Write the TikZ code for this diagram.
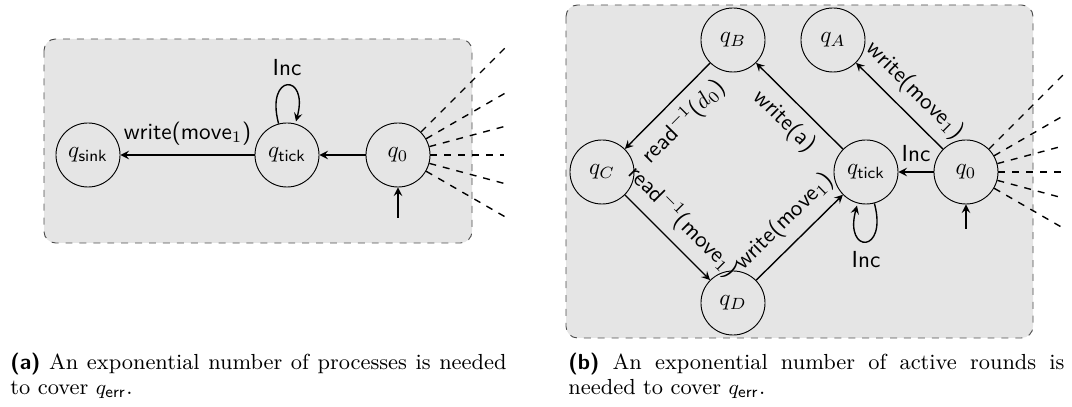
\documentclass[tikz,border=0pt]{standalone}
\usetikzlibrary{calc}
\begin{document}
\begin{tikzpicture}[x=0.431pt, y=0.431pt, >=stealth]
\tikzstyle{loc} = [circle, draw, thin, minimum size=27.6pt, inner sep=0pt]
\tikzstyle{trans} = [->, semithick]
\tikzstyle{fan} = [dashed, semithick]
\tikzstyle{region} = [draw=black!70, dashed, fill=gray!20, rounded corners=5pt]
\tikzstyle{lbl} = [font=\sffamily, inner sep=4pt]
\tikzstyle{capt} = [anchor=north west, inner sep=0pt, align=justify, font=\fontsize{9.4}{10.8}\selectfont, text width=213.8pt]

\useasboundingbox (0,0) rectangle (1072,-407);

% left part
\draw[region] (44,-39) rectangle (472,-243);
\node[loc] (sink) at (88,-155) {$q_{\mathsf{sink}}$};
\node[loc] (tickA) at (287,-155) {$q_{\mathsf{tick}}$};
\node[loc] (zeroA) at (398,-155) {$q_0$};
\coordinate (initA) at (398,-218);

\draw[trans] (zeroA) -- (tickA);
\draw[trans] (tickA) -- node[lbl, above] {write(move$_1$)} (sink);
\path (tickA) edge[trans, loop above] node[lbl, above] {Inc} ();
\draw[trans] (initA) -- (zeroA);
\foreach \a/\l in {45/155, 30/127, 15/114, 0/106, -15/114, -30/127}
    \draw[fan] (zeroA.\a) -- ($(zeroA)+(\a:\l)$);

% right part
\draw[region] (566,-5) rectangle (1033,-338);
\node[loc] (qB) at (733,-40) {$q_B$};
\node[loc] (qA) at (833,-40) {$q_A$};
\node[loc] (qC) at (602,-172) {$q_C$};
\node[loc] (tickB) at (866,-172) {$q_{\mathsf{tick}}$};
\node[loc] (zeroB) at (966,-172) {$q_0$};
\node[loc] (qD) at (733,-303) {$q_D$};
\coordinate (initB) at (966,-229);

\draw[trans] (zeroB) -- node[lbl, above, sloped] {write(move$_1$)} (qA);
\draw[trans] (zeroB) -- node[lbl, above] {Inc} (tickB);
\draw[trans] (tickB) -- node[lbl, below, sloped] {write(a)} (qB);
\draw[trans] (qB) -- node[lbl, below, sloped] {read$^{-1}$($d_0$)} (qC);
\draw[trans] (qC) -- node[lbl, above, sloped] {read$^{-1}$(move$_1$)} (qD);
\draw[trans] (qD) -- node[lbl, above, sloped] {write(move$_1$)} (tickB);
\path (tickB) edge[trans, loop below] node[lbl, below] {Inc} ();
\draw[trans] (initB) -- (zeroB);
\foreach \a/\l in {45/140, 30/114, 15/102, 0/99, -15/102, -30/114}
    \draw[fan] (zeroB.\a) -- ($(zeroB)+(\a:\l)$);

% captions
\node[capt] (captA) at (10,-353)
    {\textsf{\textbf{(a)}} An exponential number of processes is needed to cover $q_{\mathsf{err}}$.};
\node[capt] (captB) at (568,-353)
    {\textsf{\textbf{(b)}} An exponential number of active rounds is needed to cover $q_{\mathsf{err}}$.};
\end{tikzpicture}
\end{document}
